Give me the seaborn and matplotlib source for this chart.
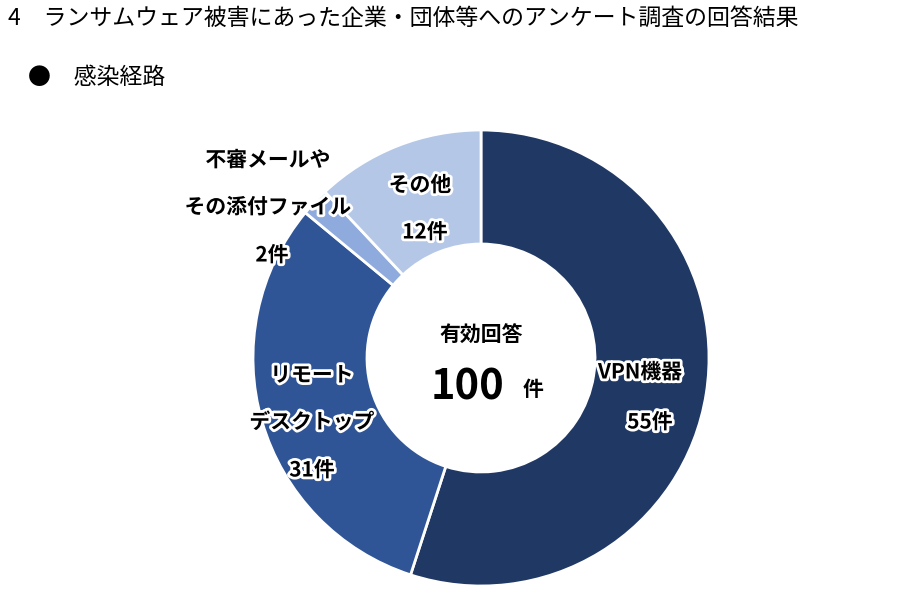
import matplotlib
matplotlib.use('Agg')
import matplotlib.pyplot as plt
import matplotlib.patheffects as pe
import seaborn as sns

sns.set_theme(style='white', font='Noto Sans CJK JP')

categories = ['VPN機器', 'リモートデスクトップ', '不審メールやその添付ファイル', 'その他']
counts = [55, 31, 2, 12]
colors = ['#203864', '#2F5597', '#8FAADC', '#B4C7E7']
total = 100

fig = plt.figure(figsize=(9.08, 6.13), dpi=100)
ax = fig.add_axes([0, 0, 1, 1])

# y axis is flipped below, so counterclock=True draws clockwise on screen
ax.pie(counts, colors=colors, startangle=-90, counterclock=True, center=(481, 358),
       radius=228, wedgeprops=dict(width=114, edgecolor='white', linewidth=2), frame=True)
ax.set_xlim(0, 908)
ax.set_ylim(613, 0)
ax.set_aspect('equal')
ax.axis('off')

ax.text(8, 18, '4　ランサムウェア被害にあった企業・団体等へのアンケート調査の回答結果',
        fontsize=16.5, va='center', ha='left', color='black')
ax.text(28, 78, '●　感染経路', fontsize=16.5, va='center', ha='left', color='black')

halo = [pe.withStroke(linewidth=4, foreground='white')]
def lab(x, y, s, size=15):
    ax.text(x, y, s, fontsize=size, fontweight='bold', ha='center', va='center',
            color='black', path_effects=halo)

lab(640, 372, categories[0])
lab(650, 422, f'{counts[0]}件')
lab(312, 375, 'リモート')
lab(312, 422, 'デスクトップ')
lab(312, 470, f'{counts[1]}件')
lab(268, 160, '不審メールや')
lab(268, 207, 'その添付ファイル')
lab(272, 255, f'{counts[2]}件')
lab(420, 185, categories[3])
lab(425, 232, f'{counts[3]}件')

ax.text(481, 335, '有効回答', fontsize=15, fontweight='bold', ha='center', va='center', color='black')
ax.text(468, 388, f'{total}', fontsize=30, fontweight='bold', ha='center', va='center', color='black')
ax.text(533, 390, '件', fontsize=15, fontweight='bold', ha='center', va='center', color='black')

fig.savefig('out.png', dpi=100)
